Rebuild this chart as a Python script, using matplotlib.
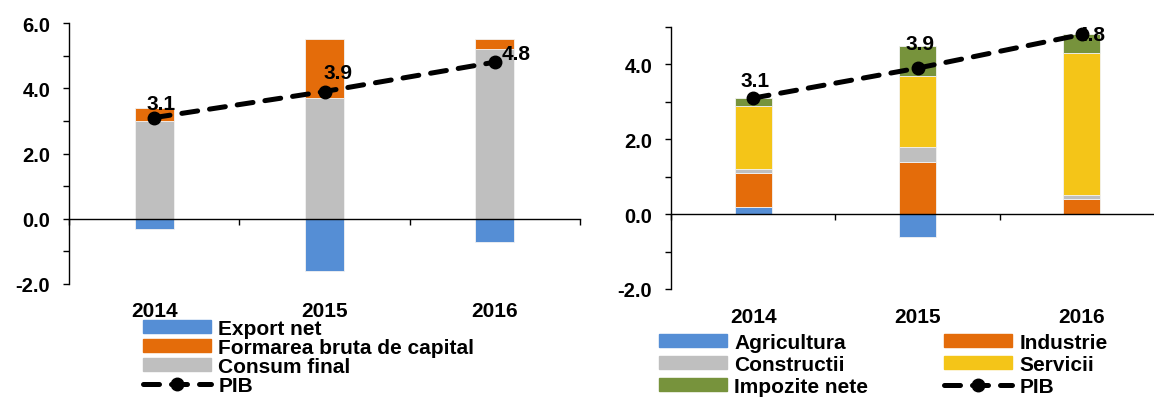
import matplotlib
matplotlib.use("Agg")
import matplotlib.pyplot as plt
from matplotlib.lines import Line2D
from matplotlib.patches import Patch
from matplotlib.ticker import MultipleLocator, FormatStrFormatter
import numpy as np

plt.rcParams['font.family'] = ['Liberation Sans', 'DejaVu Sans']
plt.rcParams['font.weight'] = 'bold'

years = ['2014', '2015', '2016']

# left: contributii pe cerere
export_net = [-0.3, -1.6, -0.7]
formarea = [0.4, 1.8, 0.3]
consum = [3.0, 3.7, 5.2]
pib = [3.1, 3.9, 4.8]

# right: contributii pe oferta
agricultura = [0.2, -0.6, 0.0]
industrie = [0.9, 1.4, 0.4]
constructii = [0.1, 0.4, 0.1]
servicii = [1.7, 1.9, 3.8]
impozite = [0.2, 0.8, 0.5]

BLUE = '#558ed5'
ORANGE = '#e46c0a'
GRAY = '#bfbfbf'
YELLOW = '#f4c518'
GREEN = '#77933c'


def stack(ax, series, colors, width):
    x = np.arange(len(years))
    pos = np.zeros(len(years))
    neg = np.zeros(len(years))
    for vals, c in zip(series, colors):
        vals = np.array(vals, dtype=float)
        bottom = np.where(vals >= 0, pos, neg)
        ax.bar(x, vals, width, bottom=bottom, color=c,
               edgecolor='#f2f2f2', linewidth=0.6, zorder=1)
        pos = pos + np.where(vals >= 0, vals, 0)
        neg = neg + np.where(vals < 0, vals, 0)


def pib_line(ax, offsets):
    x = np.arange(len(years))
    ax.plot(x, pib, color='black', lw=3.6, ls=(0, (3.2, 2.4)),
            dash_capstyle='round', marker='o', ms=9, zorder=3)
    for i, v in enumerate(pib):
        ax.annotate(f'{v:.1f}', (i, v), xytext=offsets[i],
                    textcoords='offset points', ha='center', va='center',
                    fontsize=15, fontweight='bold', zorder=2)


def style(ax, ymin, ymax, ypad, xpad):
    ax.set_xlim(-0.5, 2.5)
    ax.set_ylim(ymin, ymax)
    ax.spines['top'].set_visible(False)
    ax.spines['right'].set_visible(False)
    ax.spines['bottom'].set_position(('data', 0))
    ax.spines['bottom'].set_linewidth(1.0)
    ax.spines['left'].set_linewidth(1.0)
    ax.yaxis.set_major_locator(MultipleLocator(2))
    ax.yaxis.set_minor_locator(MultipleLocator(1))
    ax.yaxis.set_major_formatter(FormatStrFormatter('%.1f'))
    ax.tick_params(axis='y', which='both', direction='out', length=4,
                   width=1, labelsize=14.5, pad=ypad)
    ax.set_xticks(range(len(years)), years)
    ax.set_xticks([-0.5, 0.5, 1.5, 2.5], minor=True)
    ax.tick_params(axis='x', which='major', length=0, labelsize=15, pad=xpad)
    ax.tick_params(axis='x', which='minor', direction='out', length=4, width=1)


fig = plt.figure(figsize=(11.54, 4.02), dpi=100)

ax1 = fig.add_axes([69 / 1154, 1 - 285 / 402, 511 / 1154, 261 / 402])
stack(ax1, [export_net, consum, formarea], [BLUE, GRAY, ORANGE], 0.23)
pib_line(ax1, [(5, 10.5), (10, 14), (15, 6)])
style(ax1, -2, 6, 9.5, 59)

ax2 = fig.add_axes([671 / 1154, 1 - 290 / 402, 493 / 1154, 262 / 402])
stack(ax2, [agricultura, industrie, constructii, servicii, impozite],
      [BLUE, ORANGE, GRAY, YELLOW, GREEN], 0.225)
pib_line(ax2, [(1.5, 13), (2, 18), (7, 0)])
style(ax2, -2, 5, 9.5, 67)

pib_handle = Line2D([], [], color='black', lw=3.6, ls=(0, (3.2, 2.4)),
                    dash_capstyle='round', marker='o', ms=9)

h1 = [Patch(color=BLUE), Patch(color=ORANGE), Patch(color=GRAY), pib_handle]
l1 = ['Export net', 'Formarea bruta de capital', 'Consum final', 'PIB']
fig.legend(h1, l1, loc='upper left', bbox_to_anchor=(143 / 1154, 1 - 320 / 402),
           frameon=False, borderpad=0, borderaxespad=0, labelspacing=0.0,
           handlelength=3.27, handleheight=0.55, handletextpad=0.34,
           fontsize=15, numpoints=1)

h2 = [Patch(color=BLUE), Patch(color=GRAY), Patch(color=GREEN),
      Patch(color=ORANGE), Patch(color=YELLOW), pib_handle]
l2 = ['Agricultura', 'Constructii', 'Impozite nete',
      'Industrie', 'Servicii', 'PIB']
fig.legend(h2, l2, loc='upper left', bbox_to_anchor=(659 / 1154, 1 - 334 / 402),
           ncol=2, frameon=False, borderpad=0, borderaxespad=0,
           labelspacing=0.14, handlelength=3.27, handleheight=0.55,
           handletextpad=0.34, columnspacing=3.65, fontsize=15, numpoints=1)

fig.savefig('out.png', dpi=100)
